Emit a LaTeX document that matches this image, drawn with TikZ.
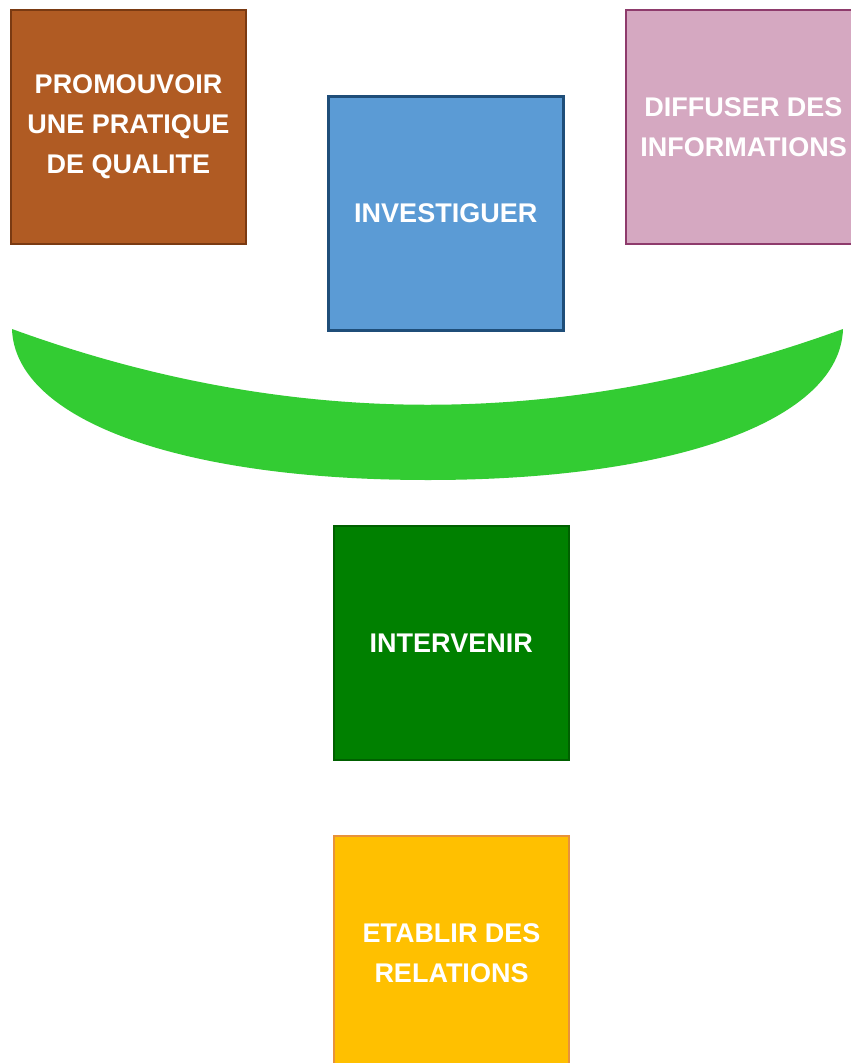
\documentclass[tikz,border=0pt]{standalone}
\usepackage{fontspec}
\setmainfont{Liberation Sans}
\definecolor{brownfill}{HTML}{B05B23}
\definecolor{browndraw}{HTML}{7A3A12}
\definecolor{bluefill}{HTML}{5B9BD5}
\definecolor{bluedraw}{HTML}{1F4E79}
\definecolor{pinkfill}{HTML}{D5A8C1}
\definecolor{pinkdraw}{HTML}{8E3B6C}
\definecolor{crescent}{HTML}{33CC33}
\definecolor{greenfill}{HTML}{008000}
\definecolor{greendraw}{HTML}{006000}
\definecolor{yellowfill}{HTML}{FFC000}
\definecolor{yellowdraw}{HTML}{E8923A}
\begin{document}
\begin{tikzpicture}[x=1pt,y=-1pt,
  box/.style={draw, line width=2pt, minimum width=235pt, minimum height=234pt,
    inner sep=0pt, anchor=north west, text=white,
    font=\bfseries\fontsize{27}{40}\selectfont, align=center}]
\clip (0,0) rectangle (851,1063);
\fill[white] (0,0) rectangle (851,1063);
\node[box, fill=brownfill, draw=browndraw] (promo) at (10,9) {PROMOUVOIR\\UNE PRATIQUE\\DE QUALITE};
\node[box, fill=bluefill, draw=bluedraw, line width=2.5pt] (invest) at (327,95) {INVESTIGUER};
\node[box, fill=pinkfill, draw=pinkdraw] (diffuse) at (625,9) {DIFFUSER DES\\INFORMATIONS};
\fill[crescent] (12,329) .. controls (15,420) and (180,480) .. (428,480)
  .. controls (676,480) and (840,420) .. (843,329)
  .. controls (566,430) and (289,430) .. (12,329) -- cycle;
\node[box, fill=greenfill, draw=greendraw, line width=1.5pt] (interv) at (333,525) {INTERVENIR};
\node[box, fill=yellowfill, draw=yellowdraw] (etablir) at (333,835) {ETABLIR DES\\RELATIONS};
\end{tikzpicture}
\end{document}
